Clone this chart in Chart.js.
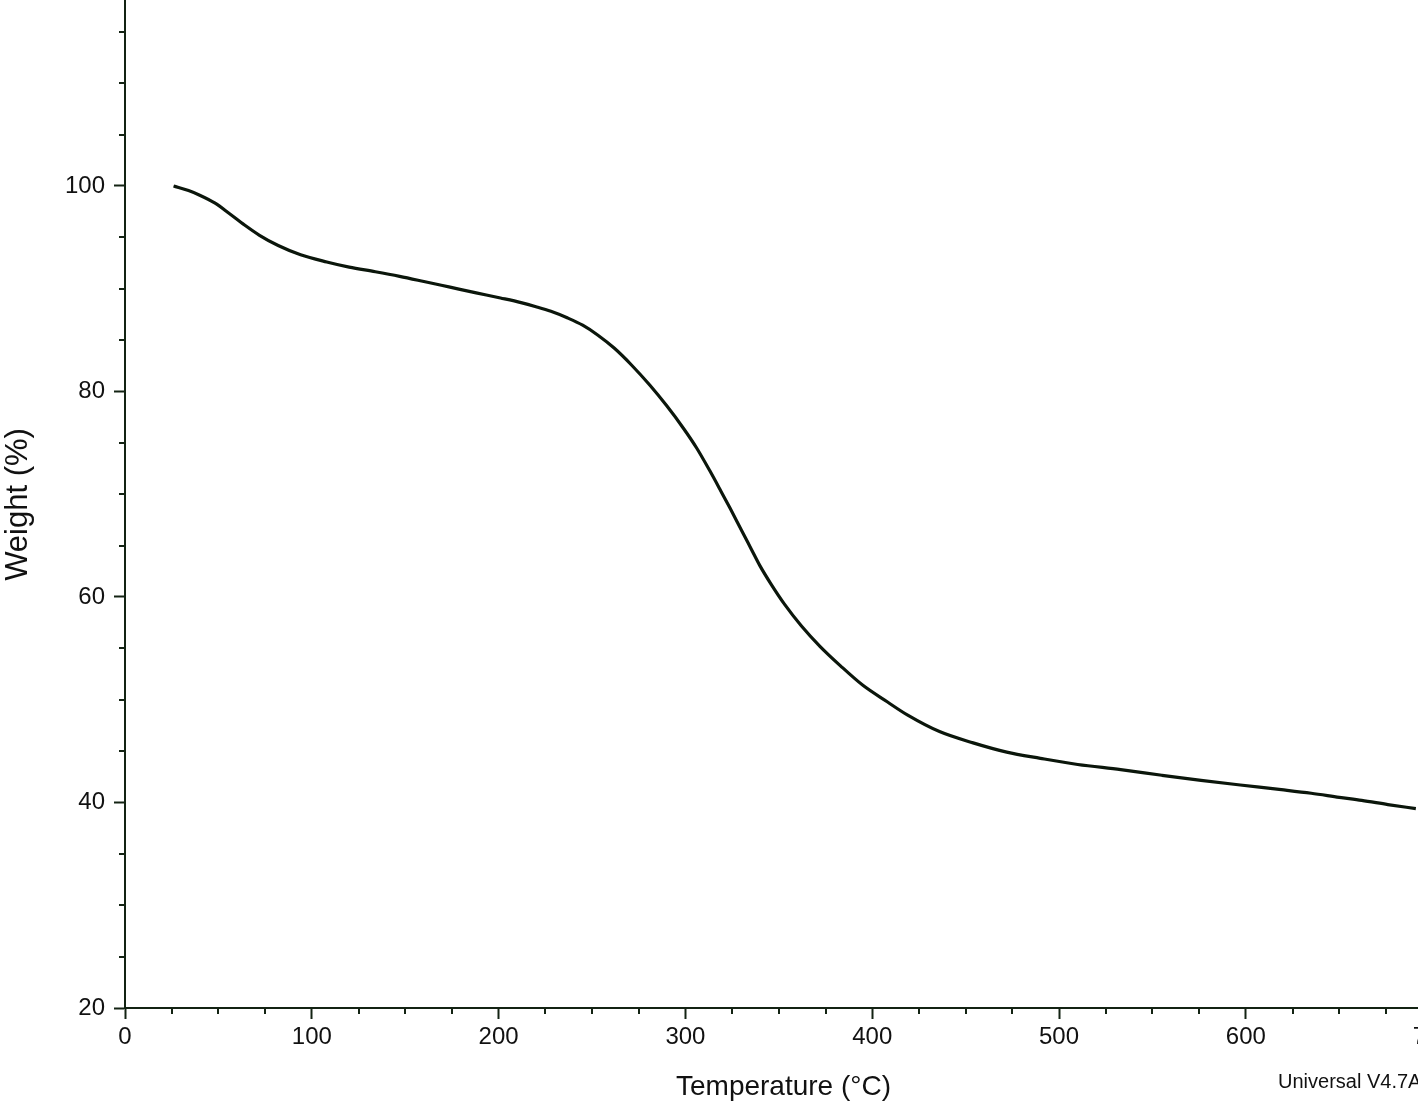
<!DOCTYPE html>
<html>
<head>
<meta charset="utf-8">
<script src="https://cdn.jsdelivr.net/npm/chart.js@4/dist/chart.umd.min.js"></script>
<style>
  html, body { margin: 0; padding: 0; background: #fff; overflow: hidden; }
  #wrap { width: 1418px; height: 1107px; overflow: hidden; }
</style>
</head>
<body>
<div id="wrap"><canvas id="tga" width="1470" height="1107"></canvas></div>
<script>
// TGA curve
const temps = [26, 34, 40, 48, 56, 64, 72, 82, 94, 108, 120, 134, 147, 160, 174, 188, 201, 212, 220, 228,
  237, 245, 253, 262, 271, 281, 290, 299, 306, 313, 319, 324, 330, 335, 340, 346, 353, 362, 372, 383,
  395, 408, 419, 436, 454, 472, 490, 510, 533, 555, 576, 597, 619, 635, 650, 662, 676, 691]
const weights = [100.0, 99.55, 99.1, 98.35, 97.3, 96.2, 95.2, 94.2, 93.3, 92.6, 92.1, 91.65, 91.2, 90.7, 90.15, 89.6, 89.1, 88.65, 88.25, 87.8,
  87.15, 86.45, 85.5, 84.2, 82.6, 80.6, 78.6, 76.4, 74.5, 72.3, 70.3, 68.6, 66.5, 64.75, 63.0, 61.2, 59.3, 57.2, 55.2, 53.3,
  51.4, 49.8, 48.5, 46.9, 45.8, 44.9, 44.3, 43.7, 43.2, 42.65, 42.15, 41.7, 41.25, 40.9, 40.5, 40.2, 39.8, 39.4]

const xMajorStep = 100
const yMajorStep = 20
const footnote = 'Universal V4.7A'

const axisColor = '#132313'
const fontFamily = "'Liberation Sans', Arial, sans-serif"

// short minor tick marks, drawn outward from each axis
const minorTicks = {
  id: 'minorTicks',
  afterDraw(chart) {
    const ctx = chart.ctx
    const xs = chart.scales.x
    const ys = chart.scales.y
    ctx.save()
    ctx.strokeStyle = axisColor
    ctx.lineWidth = 2
    xs.ticks.forEach(t => {
      if (t.value % xMajorStep === 0 || t.value % 25 !== 0) return
      const px = Math.round(xs.getPixelForValue(t.value))
      ctx.beginPath()
      ctx.moveTo(px, xs.top)
      ctx.lineTo(px, xs.top + 6)
      ctx.stroke()
    })
    ys.ticks.forEach(t => {
      if (t.value % yMajorStep === 0 || t.value % 5 !== 0) return
      const py = Math.round(ys.getPixelForValue(t.value))
      ctx.beginPath()
      ctx.moveTo(ys.right, py)
      ctx.lineTo(ys.right - 6, py)
      ctx.stroke()
    })
    ctx.fillStyle = '#111'
    ctx.font = '20px ' + fontFamily
    ctx.textAlign = 'left'
    ctx.textBaseline = 'middle'
    ctx.fillText(footnote, 1278, 1082)
    ctx.restore()
  }
}

new Chart(document.getElementById('tga'), {
  type: 'line',
  data: {
    datasets: [{
      data: temps.map((t, i) => ({ x: t, y: weights[i] })),
      borderColor: '#0b160b',
      borderWidth: 3.2,
      pointRadius: 0,
      cubicInterpolationMode: 'monotone',
      fill: false
    }]
  },
  options: {
    responsive: false,
    animation: false,
    devicePixelRatio: 1,
    layout: { padding: { top: 1, right: 28, left: 0, bottom: 0 } },
    plugins: { legend: { display: false }, tooltip: { enabled: false } },
    scales: {
      x: {
        type: 'linear',
        min: 0,
        max: 705,
        afterFit: (s) => { s.height = 99; s.paddingLeft = 0; s.paddingRight = 0 },
        border: { color: axisColor, width: 2 },
        grid: {
          drawOnChartArea: false,
          tickLength: 11,
          tickWidth: 2,
          tickColor: (c) => (c.tick && c.tick.value % xMajorStep === 0) ? axisColor : 'rgba(0,0,0,0)'
        },
        ticks: {
          stepSize: 25,
          includeBounds: false,
          autoSkip: false,
          maxRotation: 0,
          padding: 4,
          color: '#111',
          font: { family: fontFamily, size: 24 },
          callback: (v) => v % xMajorStep === 0 ? v : ''
        },
        title: {
          display: true,
          text: 'Temperature (°C)',
          color: '#111',
          font: { family: fontFamily, size: 28 },
          padding: { top: 0, bottom: 3 }
        }
      },
      y: {
        type: 'linear',
        min: 20,
        max: 118,
        afterFit: (s) => { s.width = 125; s.paddingTop = 0; s.paddingBottom = 0 },
        border: { color: axisColor, width: 2 },
        grid: {
          drawOnChartArea: false,
          tickLength: 11,
          tickWidth: 2,
          tickColor: (c) => (c.tick && c.tick.value % yMajorStep === 0) ? axisColor : 'rgba(0,0,0,0)'
        },
        ticks: {
          stepSize: 5,
          includeBounds: false,
          autoSkip: false,
          padding: 9,
          color: '#111',
          font: { family: fontFamily, size: 24 },
          callback: (v) => v % yMajorStep === 0 ? v : ''
        },
        title: {
          display: true,
          text: 'Weight (%)',
          color: '#111',
          font: { family: fontFamily, size: 31 },
          padding: { top: 0, bottom: 0 }
        }
      }
    }
  },
  plugins: [minorTicks]
})
</script>
</body>
</html>
